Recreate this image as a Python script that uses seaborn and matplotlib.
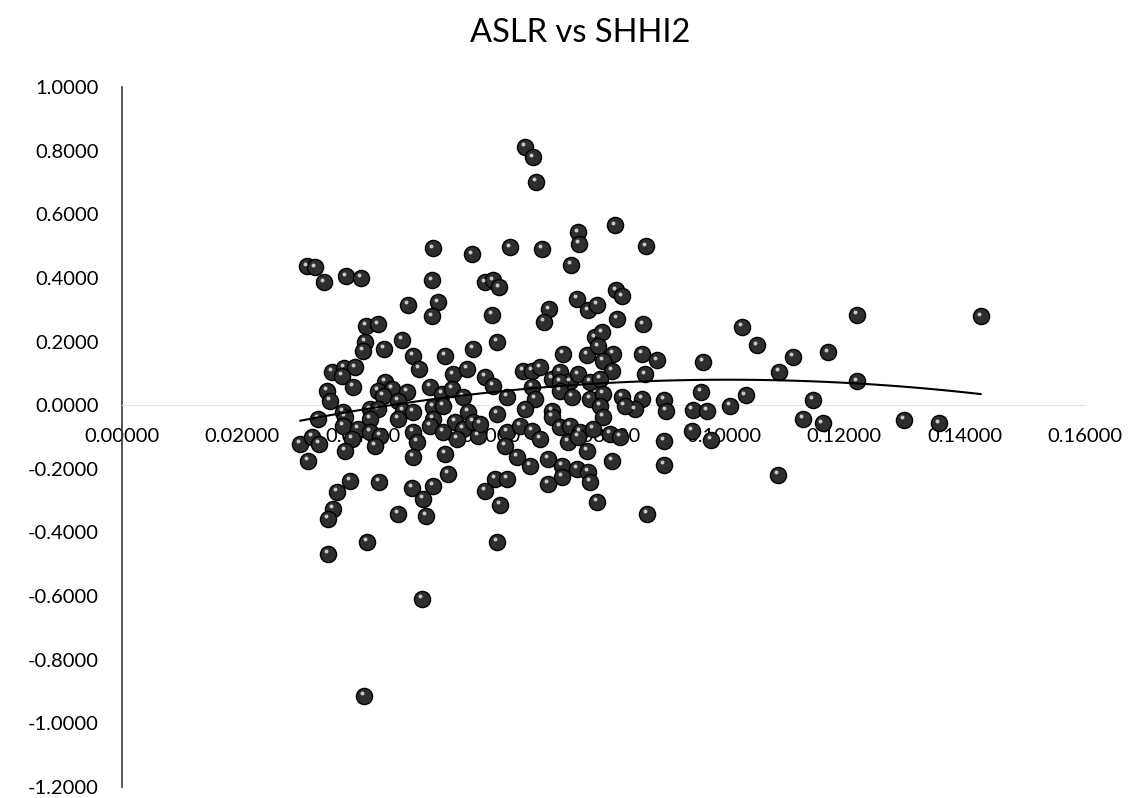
import numpy as np
import pandas as pd
import matplotlib
matplotlib.use("Agg")
import matplotlib.pyplot as plt
import seaborn as sns
from matplotlib.transforms import ScaledTranslation

title = "ASLR vs SHHI2"

shhi2 = [
    0.0307, 0.0321, 0.0336, 0.0372, 0.0397, 0.0517, 0.0581, 0.0515, 0.0525, 0.0475, 0.0515, 0.0405, 0.0425,
    0.0669, 0.0683, 0.0688, 0.0644, 0.0698, 0.0757, 0.0759, 0.0819, 0.0870, 0.0746, 0.0603, 0.0616, 0.0626,
    0.0615, 0.0709, 0.0701, 0.0756, 0.0774, 0.0789, 0.0821, 0.0831, 0.0822, 0.0865,
    0.0864, 0.0889, 0.0869, 0.0965, 0.1030, 0.1055, 0.1091, 0.1115, 0.1173, 0.0864, 0.0900, 0.0904, 0.0962,
    0.0948, 0.0972, 0.1010, 0.1036, 0.1148, 0.1131, 0.1164, 0.0947, 0.0978, 0.0900, 0.0900, 0.1090,
    0.1221, 0.1427, 0.1222, 0.1299, 0.1357,
    0.0404, 0.0400, 0.0435, 0.0465, 0.0483, 0.0493, 0.0537, 0.0583, 0.0349, 0.0369, 0.0387, 0.0365, 0.0384,
    0.0341, 0.0345, 0.0437, 0.0425, 0.0449, 0.0473, 0.0434, 0.0512, 0.0532, 0.0550, 0.0573, 0.0548, 0.0566,
    0.0458, 0.0412, 0.0425, 0.0367, 0.0467, 0.0483, 0.0517, 0.0533, 0.0575, 0.0326, 0.0370, 0.0412, 0.0458,
    0.0517, 0.0553, 0.0566, 0.0583, 0.0367, 0.0512, 0.0296, 0.0316, 0.0327, 0.0392, 0.0382, 0.0412, 0.0429,
    0.0420, 0.0370, 0.0483, 0.0490, 0.0533, 0.0556, 0.0591, 0.0309, 0.0483, 0.0537, 0.0541, 0.0379, 0.0427,
    0.0357, 0.0482, 0.0500, 0.0517, 0.0350, 0.0342, 0.0458, 0.0505, 0.0407, 0.0342, 0.0498, 0.0402,
    0.0623, 0.0733, 0.0772, 0.0786, 0.0797, 0.0791, 0.0816, 0.0799, 0.0814, 0.0603, 0.0616, 0.0666, 0.0681,
    0.0694, 0.0714, 0.0728, 0.0744, 0.0757, 0.0728, 0.0777, 0.0794, 0.0681, 0.0639, 0.0686, 0.0728, 0.0747,
    0.0777, 0.0799, 0.0831, 0.0852, 0.0835, 0.0595, 0.0623, 0.0669, 0.0714, 0.0714, 0.0794, 0.0799, 0.0639,
    0.0661, 0.0681, 0.0694, 0.0728, 0.0744, 0.0761, 0.0782, 0.0811, 0.0827, 0.0741, 0.0757, 0.0636, 0.0656,
    0.0678, 0.0708, 0.0731, 0.0772, 0.0814, 0.0756, 0.0774, 0.0731, 0.0708, 0.0777, 0.0620, 0.0639, 0.0603,
    0.0628, 0.0789, 0.0872, 0.0623,
]

aslr = [
    0.436, 0.433, 0.386, 0.405, 0.399, 0.493, 0.474, 0.392, 0.323, 0.314, 0.279, 0.248, 0.254,
    0.813, 0.779, 0.703, 0.496, 0.490, 0.543, 0.506, 0.565, 0.499, 0.440, 0.386, 0.392, 0.370,
    0.283, 0.301, 0.261, 0.333, 0.298, 0.314, 0.361, 0.342, 0.270, 0.254,
    0.160, 0.141, 0.097, 0.135, 0.245, 0.188, 0.104, 0.151, 0.166, 0.019, 0.016, -0.019, 0.041,
    -0.016, -0.019, -0.003, 0.031, 0.016, -0.044, -0.057, -0.082, -0.110, -0.113, -0.188, -0.220,
    0.283, 0.279, 0.075, -0.047, -0.057,
    0.198, 0.170, 0.176, 0.204, 0.154, 0.113, 0.154, 0.176, 0.104, 0.116, 0.119, 0.091, 0.057,
    0.044, 0.013, 0.072, 0.044, 0.050, 0.041, 0.028, 0.057, 0.035, 0.097, 0.113, 0.050, 0.025,
    0.013, -0.013, -0.013, -0.022, -0.019, -0.022, -0.006, -0.003, -0.022, -0.044, -0.038, -0.044, -0.044,
    -0.044, -0.053, -0.075, -0.053, -0.066, -0.066, -0.122, -0.100, -0.122, -0.075, -0.107, -0.085, -0.097,
    -0.129, -0.144, -0.085, -0.116, -0.085, -0.107, -0.097, -0.176, -0.163, -0.154, -0.217, -0.239, -0.242,
    -0.273, -0.261, -0.295, -0.254, -0.327, -0.358, -0.342, -0.349, -0.430, -0.468, -0.609, -0.914,
    0.198, 0.160, 0.157, 0.213, 0.229, 0.185, 0.160, 0.138, 0.107, 0.088, 0.060, 0.107, 0.107,
    0.119, 0.082, 0.104, 0.075, 0.097, 0.072, 0.072, 0.082, 0.057, 0.025, 0.019, 0.044, 0.025,
    0.019, 0.035, 0.025, -0.013, -0.003, -0.060, -0.028, -0.013, -0.019, -0.038, -0.003, -0.038, -0.085,
    -0.066, -0.082, -0.107, -0.069, -0.066, -0.085, -0.075, -0.091, -0.100, -0.116, -0.100, -0.129, -0.163,
    -0.192, -0.170, -0.192, -0.144, -0.176, -0.201, -0.210, -0.226, -0.248, -0.242, -0.232, -0.232, -0.270,
    -0.314, -0.305, -0.342, -0.430,
]

x_ticks = [0.00, 0.02, 0.04, 0.06, 0.08, 0.10, 0.12, 0.14, 0.16]
y_ticks = [-1.2, -1.0, -0.8, -0.6, -0.4, -0.2, 0.0, 0.2, 0.4, 0.6, 0.8, 1.0]

sns.set_theme(style="white")
plt.rcParams['font.family'] = ['Lato', 'DejaVu Sans']

W, H = 1129, 798
fig = plt.figure(figsize=(W / 100, H / 100), dpi=100)
ax = fig.add_axes([122 / W, 1 - 787 / H, (1085 - 122) / W, (787 - 87) / H])

df = pd.DataFrame({"SHHI2": shhi2, "ASLR": aslr})

sns.scatterplot(data=df, x="SHHI2", y="ASLR", ax=ax, s=135, color="#2e2e2e",
                edgecolor="black", linewidth=1.0, zorder=3, legend=False)
hl = ax.transData + ScaledTranslation(-1.5 / 72, 2.0 / 72, fig.dpi_scale_trans)
sns.scatterplot(data=df, x="SHHI2", y="ASLR", ax=ax, s=8, color="#c8c8c8",
                linewidth=0, zorder=3.5, transform=hl, legend=False)
sns.regplot(data=df, x="SHHI2", y="ASLR", ax=ax, order=2, ci=None, scatter=False,
            truncate=True, line_kws=dict(color="black", lw=1.5, zorder=4))

ax.set_xlim(0, 0.16)
ax.set_ylim(-1.2, 1.0)
ax.set_xticks(x_ticks)
ax.set_yticks(y_ticks)
ax.set_xticklabels([f"{v:.5f}" for v in x_ticks])
ax.set_yticklabels([f"{v:.4f}" for v in y_ticks])
ax.set_xlabel("")
ax.set_ylabel("")

for s in ["top", "right"]:
    ax.spines[s].set_visible(False)
ax.spines["left"].set_position(("data", 0))
ax.spines["left"].set_color("#3a3a3a")
ax.spines["left"].set_linewidth(1.2)
ax.spines["bottom"].set_position(("data", 0))
ax.spines["bottom"].set_color("#e4e4e4")
ax.spines["bottom"].set_linewidth(0.8)
ax.tick_params(axis="both", length=0, labelsize=14.5, colors="black")
ax.tick_params(axis="x", pad=16.5)
ax.tick_params(axis="y", pad=16.5)
ax.grid(False)
ax.set_facecolor("white")

fig.text(580 / W, 1 - 42 / H, title, ha="center", va="baseline", fontsize=23.5, color="black")

fig.savefig("out.png", dpi=100, facecolor="white")
